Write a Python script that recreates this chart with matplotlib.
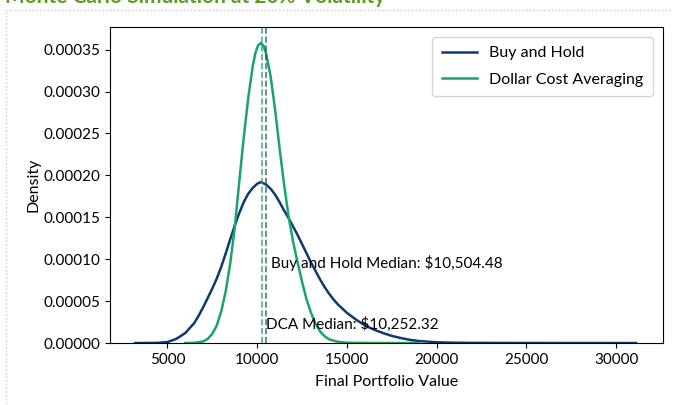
import numpy as np
import matplotlib
matplotlib.use("Agg")
import matplotlib.pyplot as plt
from matplotlib.patches import Rectangle

plt.rcParams['font.family'] = ['Lato', 'DejaVu Sans']

# values
bh_x = [3200, 4000, 4500, 5000, 5500, 6000, 6500, 6750, 7000, 7250, 7500, 7750, 8000,
        8250, 8500, 8750, 9000, 9250, 9500, 9750, 10000, 10200, 10500, 10750, 11000,
        11250, 11500, 11750, 12000, 12250, 12500, 12750, 13000, 13250, 13500, 13750,
        14000, 14250, 14500, 14750, 15000, 15500, 16000, 16500, 17000, 17500, 18000,
        18500, 19000, 20000, 21000, 22000, 24000, 26000, 28000, 31100]
bh_d = [0.0, 0.0000001, 0.0000003, 0.0000012, 0.000005, 0.000012, 0.000024, 0.000033,
        0.000043, 0.000054, 0.000065, 0.000077, 0.000091, 0.000107, 0.000124, 0.000140,
        0.000155, 0.000168, 0.000178, 0.000185, 0.000190, 0.000192, 0.000189, 0.000184,
        0.000177, 0.000168, 0.000158, 0.000149, 0.000139, 0.000129, 0.000118, 0.000107,
        0.000096, 0.000086, 0.000076, 0.000067, 0.000059, 0.000052, 0.000046, 0.000041,
        0.000036, 0.000028, 0.000021, 0.000016, 0.000012, 0.0000085, 0.000006, 0.0000038,
        0.0000024, 0.0000009, 0.0000004, 0.0000002, 0.0000001, 0.00000005, 0.00000002, 0.0]

dca_x = [6000, 6500, 7000, 7250, 7500, 7750, 8000, 8250, 8500, 8750, 9000, 9250, 9500,
         9750, 9900, 10050, 10200, 10350, 10500, 10750, 11000, 11250, 11500, 11750, 12000,
         12250, 12500, 12750, 13000, 13250, 13500, 13750, 14000, 14500, 15000, 16000,
         17000, 18000, 19000]
dca_d = [0.0, 0.0000002, 0.000002, 0.000005, 0.000011, 0.000021, 0.000038, 0.000062,
         0.000095, 0.000138, 0.000192, 0.000245, 0.000292, 0.000330, 0.000346, 0.000355,
         0.000358, 0.000355, 0.000345, 0.000318, 0.000278, 0.000232, 0.000189, 0.000151,
         0.000121, 0.000096, 0.000073, 0.000052, 0.000036, 0.000023, 0.000014, 0.0000082,
         0.0000045, 0.0000014, 0.0000004, 0.0000001, 0.00000002, 0.0, 0.0]

bh_median = 10504.48
dca_median = 10252.32

blue = '#0d3b6e'
green = '#1aa36b'

fig = plt.figure(figsize=(6.73, 4.05), dpi=100)
ax = fig.add_axes([0.1634, 0.153, 0.8216, 0.7803])

ax.plot(bh_x, bh_d, color=blue, lw=1.8, label='Buy and Hold')
ax.plot(dca_x, dca_d, color=green, lw=1.8, label='Dollar Cost Averaging')
ax.axvline(dca_median, color=green, ls='--', lw=1.2, alpha=0.8)
ax.axvline(bh_median, color=blue, ls='--', lw=1.2, alpha=0.7)

ax.text(bh_median + 250, 0.000089, 'Buy and Hold Median: ${:,.2f}'.format(bh_median), fontsize=11)
ax.text(dca_median + 250, 0.0000167, 'DCA Median: ${:,.2f}'.format(dca_median), fontsize=11)

ax.set_xlim(1800, 32600)
ax.set_ylim(0, 0.000377)
ax.set_xticks([5000, 10000, 15000, 20000, 25000, 30000])
ax.set_yticks(np.arange(0, 0.000351, 0.00005))
ax.yaxis.set_major_formatter(matplotlib.ticker.FormatStrFormatter('%.5f'))
ax.tick_params(labelsize=11)
ax.set_xlabel('Final Portfolio Value', fontsize=11.5, labelpad=6)
ax.set_ylabel('Density', fontsize=11.5, labelpad=2)
ax.legend(loc='upper right', fontsize=11.5, handlelength=2.2, labelspacing=0.75,
          borderpad=0.6, borderaxespad=0.6)

# cut-off title and dotted frame from the source document
fig.text(0.008, 1 - 3 / 405, 'Monte Carlo Simulation at 20% Volatility', color='#5a9e1f',
         fontsize=15, fontweight='bold', va='baseline')
fig.patches.append(Rectangle((6 / 673, -0.1), 1.2, 0.1 + 1 - 10 / 405, transform=fig.transFigure,
                             fill=False, ec='#c8c8c8', ls=':', lw=1.0))

fig.savefig('out.png', dpi=100)
